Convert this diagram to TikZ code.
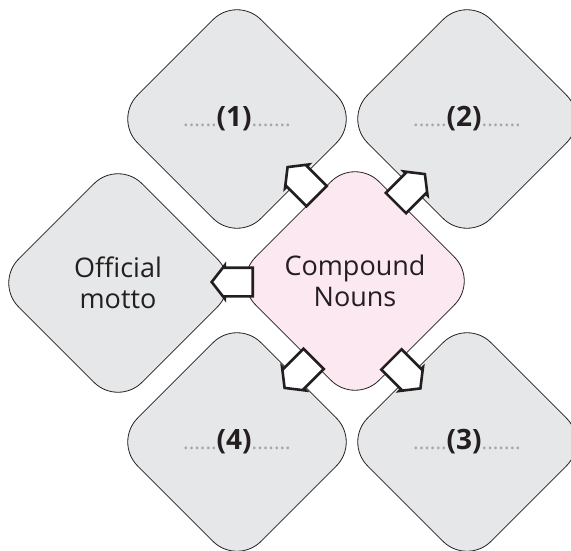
\documentclass[tikz,border=0pt]{standalone}
\usepackage{fontspec}
\setmainfont{Open Sans}
\usetikzlibrary{shapes.geometric, shapes.arrows}
\definecolor{tilegray}{RGB}{230, 231, 232}
\definecolor{nounpink}{RGB}{252, 232, 240}
\definecolor{inkcolor}{RGB}{35, 31, 32}
\definecolor{dotgray}{RGB}{165, 165, 165}

% dotted gap with a number in it
\newcommand{\gapfill}[1]{{\color{dotgray}\fontsize{21}{24}\selectfont......}{\fontsize{28}{30}\selectfont\bfseries #1}{\color{dotgray}\fontsize{21}{24}\selectfont.......}}

\begin{document}
\begin{tikzpicture}[
    x=1pt, y=-1pt,
    tile/.style={diamond, draw=inkcolor, line width=0.8pt, rounded corners=34pt, minimum size=247pt, inner sep=0pt, align=center, text=inkcolor, font=\fontsize{27}{30.5}\selectfont},
    graytile/.style={tile, fill=tilegray},
    pinktile/.style={tile, fill=nounpink},
    blockarrow/.style={single arrow, draw=inkcolor, fill=white, line width=2.6pt, minimum height=41pt, inner xsep=0pt, inner ysep=13pt, single arrow head extend=2.5pt, single arrow tip angle=104, anchor=tail},
]

\useasboundingbox (0, 0) rectangle (571, 551);

% Outer tiles
\node[graytile] (motto) at (118, 283) {Official\\motto};
\node[graytile] (gap1) at (237, 119) {\gapfill{(1)}};
\node[graytile] (gap2) at (467, 119) {\gapfill{(2)}};
\node[graytile] (gap3) at (467, 442) {\gapfill{(3)}};
\node[graytile] (gap4) at (237, 442) {\gapfill{(4)}};

% Centre tile
\node[pinktile] (nouns) at (355, 281) {Compound\\Nouns};

% Block arrows
\node[blockarrow, rotate=180] (tomotto) at (254, 282) {};
\node[blockarrow, rotate=135] (togap1) at (317.5, 197) {};
\node[blockarrow, rotate=45] (togap2) at (395, 204) {};
\node[blockarrow, rotate=-45] (togap3) at (390.5, 358.5) {};
\node[blockarrow, rotate=-135] (togap4) at (314.5, 358) {};

\end{tikzpicture}
\end{document}
